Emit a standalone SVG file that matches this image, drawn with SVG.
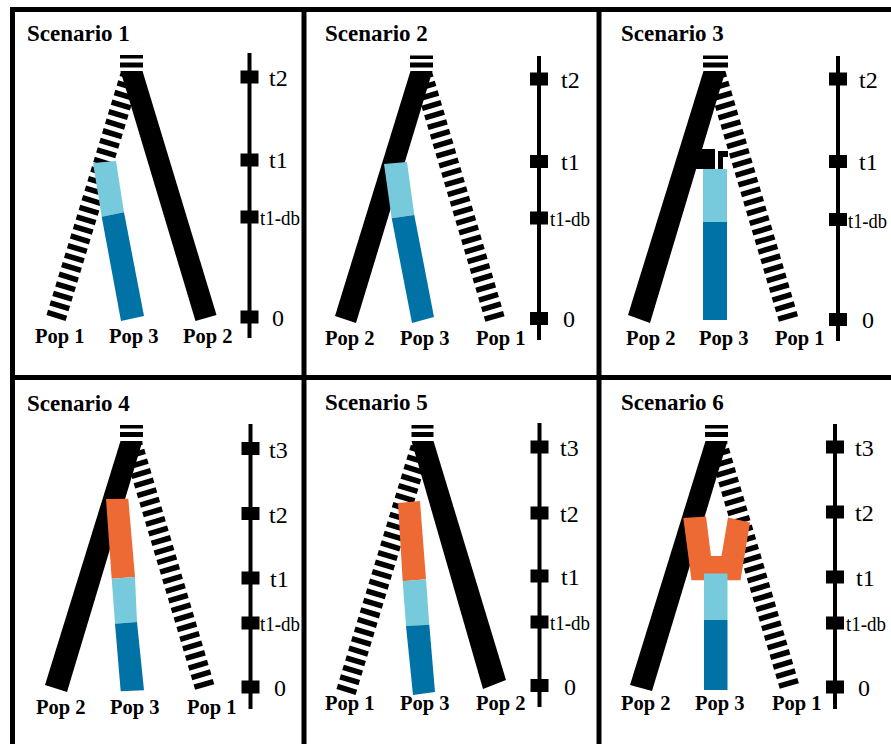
<svg xmlns="http://www.w3.org/2000/svg" width="891" height="744" viewBox="0 0 891 744">
<style>
.frame{stroke:#000;stroke-width:5;fill:none}
.title{font-family:"Liberation Serif",serif;font-weight:bold;font-size:23px;fill:#000}
.pop{font-family:"Liberation Serif",serif;font-weight:bold;font-size:20.5px;fill:#000}
.tl{font-family:"Liberation Serif",serif;font-size:24px;fill:#000}
.tdb{font-family:"Liberation Serif",serif;font-size:21px;fill:#000}
.axis{stroke:#000;stroke-width:4}
.solid{fill:#000}
.stripe{stroke:#000;stroke-width:20;stroke-dasharray:5.5 4.5;fill:none}
.orange{fill:#EE6A35}
.light{fill:#77CADC}
.dark{fill:#0072A6}
</style>
<defs>
<clipPath id="clipTop"><rect x="0" y="71" width="891" height="301"/></clipPath>
<clipPath id="clipBot"><rect x="0" y="441" width="891" height="303"/></clipPath>
<rect id="tk" x="-9" y="-6.5" width="18" height="13"/>
</defs>
<rect x="0" y="0" width="891" height="744" fill="#fff"/>
<g id="frames" class="frame">
<line x1="10" y1="9.5" x2="891" y2="9.5"/>
<line x1="12.5" y1="7" x2="12.5" y2="744"/>
<line x1="304" y1="7" x2="304" y2="744"/>
<line x1="599" y1="7" x2="599" y2="744"/>
<line x1="10" y1="377.5" x2="891" y2="377.5"/>
</g>

<!-- Scenario 1 -->
<g id="scenario1">
<text class="title" x="27" y="41">Scenario 1</text>
<g id="s1-root"><rect x="120" y="55" width="23" height="3.5"/><rect x="120" y="62.5" width="23" height="5"/></g>
<g id="s1-pop1"><line class="stripe" clip-path="url(#clipTop)" x1="56" y1="318" x2="134.6" y2="61"/></g>
<g id="s1-pop2"><polygon class="solid" points="120.5,71 142.5,71 216.5,315 195.5,321"/></g>
<g id="s1-pop3"><polygon class="light" points="93,163 116,161 124,212.3 101.7,216.7"/><polygon class="dark" points="101.7,216.7 124,212.3 144,316 121,321"/></g>
<g id="s1-time"><line class="axis" x1="249.5" y1="53" x2="249.5" y2="338"/>
<use href="#tk" x="249.5" y="77"/><use href="#tk" x="249.5" y="160"/><use href="#tk" x="249.5" y="217"/><use href="#tk" x="249.5" y="317"/>
<text class="tl" x="269" y="86">t2</text><text class="tl" x="269" y="168">t1</text><text class="tdb" x="260" y="225" textLength="40" lengthAdjust="spacingAndGlyphs">t1-db</text><text class="tl" x="272" y="326">0</text></g>
<text class="pop" x="35" y="343">Pop 1</text><text class="pop" x="109" y="343">Pop 3</text><text class="pop" x="183" y="343">Pop 2</text>
</g>

<!-- Scenario 2 -->
<g id="scenario2">
<text class="title" x="325" y="41">Scenario 2</text>
<g id="s2-root"><rect x="410" y="55.5" width="23" height="3.5"/><rect x="410" y="62.5" width="23" height="5"/></g>
<g id="s2-pop1"><line class="stripe" clip-path="url(#clipTop)" x1="495" y1="319" x2="418.5" y2="61"/></g>
<g id="s2-pop2"><polygon class="solid" points="410.5,71 432.5,71 356,323 335,316"/></g>
<g id="s2-pop3"><polygon class="light" points="384,164 407,162 414.3,215 391.7,218.3"/><polygon class="dark" points="391.7,218.3 414.3,215 434,317 412,323"/></g>
<g id="s2-time"><line class="axis" x1="539" y1="56" x2="539" y2="340"/>
<use href="#tk" x="539" y="79"/><use href="#tk" x="539" y="161.5"/><use href="#tk" x="539" y="218"/><use href="#tk" x="539" y="318.5"/>
<text class="tl" x="561" y="88">t2</text><text class="tl" x="561" y="170">t1</text><text class="tdb" x="550" y="226" textLength="40" lengthAdjust="spacingAndGlyphs">t1-db</text><text class="tl" x="563" y="327">0</text></g>
<text class="pop" x="325" y="345">Pop 2</text><text class="pop" x="400" y="345">Pop 3</text><text class="pop" x="476" y="345">Pop 1</text>
</g>

<!-- Scenario 3 -->
<g id="scenario3">
<text class="title" x="621" y="41">Scenario 3</text>
<g id="s3-root"><rect x="703" y="55.5" width="25" height="3.5"/><rect x="703" y="62.5" width="25" height="5"/></g>
<g id="s3-pop1"><line class="stripe" clip-path="url(#clipTop)" x1="788.5" y1="319" x2="712" y2="61"/></g>
<g id="s3-pop2"><polygon class="solid" points="703.5,71 725.5,71 650,323 628,315"/>
<polygon class="solid" points="690,149 715,149 715,169 685,169"/>
<path class="solid" d="M718,151 H728 V157 H723 V169 H718 Z"/></g>
<g id="s3-pop3"><rect class="light" x="703" y="169" width="24" height="53"/><rect class="dark" x="703" y="222" width="24" height="98"/></g>
<g id="s3-time"><line class="axis" x1="838" y1="56" x2="838" y2="341"/>
<use href="#tk" x="838" y="79"/><use href="#tk" x="838" y="161.5"/><use href="#tk" x="838" y="219.5"/><use href="#tk" x="838" y="319.5"/>
<text class="tl" x="859" y="88">t2</text><text class="tl" x="859" y="170">t1</text><text class="tdb" x="848" y="227.5" textLength="39" lengthAdjust="spacingAndGlyphs">t1-db</text><text class="tl" x="862" y="328">0</text></g>
<text class="pop" x="626" y="345">Pop 2</text><text class="pop" x="699" y="345">Pop 3</text><text class="pop" x="775" y="345">Pop 1</text>
</g>

<!-- Scenario 4 -->
<g id="scenario4">
<text class="title" x="27" y="411">Scenario 4</text>
<g id="s4-root"><rect x="120" y="425" width="23" height="3.5"/><rect x="120" y="432" width="23" height="5"/></g>
<g id="s4-pop1"><line class="stripe" clip-path="url(#clipBot)" x1="204.7" y1="687" x2="128.5" y2="431"/></g>
<g id="s4-pop2"><polygon class="solid" points="120.5,441 142.5,441 67,692 45,685"/></g>
<g id="s4-pop3"><polygon class="orange" points="106,499 128.3,498.7 135,577 111.7,578.7"/><polygon class="light" points="111.7,578.7 135,577 137,622 115,623.7"/><polygon class="dark" points="115,623.7 137,622 144,690.3 120.7,691.3"/></g>
<g id="s4-time"><line class="axis" x1="250.5" y1="424" x2="250.5" y2="709"/>
<use href="#tk" x="250.5" y="448.5"/><use href="#tk" x="250.5" y="513.5"/><use href="#tk" x="250.5" y="578"/><use href="#tk" x="250.5" y="623"/><use href="#tk" x="250.5" y="687"/>
<text class="tl" x="269" y="457.5">t3</text><text class="tl" x="269" y="522.5">t2</text><text class="tl" x="270" y="587">t1</text><text class="tdb" x="260" y="631" textLength="40" lengthAdjust="spacingAndGlyphs">t1-db</text><text class="tl" x="274" y="696">0</text></g>
<text class="pop" x="36" y="714">Pop 2</text><text class="pop" x="110" y="714">Pop 3</text><text class="pop" x="187" y="714">Pop 1</text>
</g>

<!-- Scenario 5 -->
<g id="scenario5">
<text class="title" x="325" y="410">Scenario 5</text>
<g id="s5-root"><rect x="411.5" y="425" width="22" height="3.5"/><rect x="411.5" y="432" width="22" height="5"/></g>
<g id="s5-pop1"><line class="stripe" clip-path="url(#clipBot)" x1="346" y1="692" x2="425.5" y2="431"/></g>
<g id="s5-pop2"><polygon class="solid" points="411.5,441 433.5,441 506,680 483,689"/></g>
<g id="s5-pop3"><polygon class="orange" points="398,503 420,501 426,579.3 402.7,581.3"/><polygon class="light" points="402.7,581.3 426,579.3 429.3,624.7 406,626"/><polygon class="dark" points="406,626 429.3,624.7 435,692 413,695"/></g>
<g id="s5-time"><line class="axis" x1="539.5" y1="423" x2="539.5" y2="707"/>
<use href="#tk" x="539.5" y="447"/><use href="#tk" x="539.5" y="513"/><use href="#tk" x="539.5" y="576"/><use href="#tk" x="539.5" y="622"/><use href="#tk" x="539.5" y="685.5"/>
<text class="tl" x="560" y="456">t3</text><text class="tl" x="560" y="522">t2</text><text class="tl" x="561" y="585">t1</text><text class="tdb" x="550" y="630" textLength="40" lengthAdjust="spacingAndGlyphs">t1-db</text><text class="tl" x="564" y="694.5">0</text></g>
<text class="pop" x="325" y="710">Pop 1</text><text class="pop" x="400" y="710">Pop 3</text><text class="pop" x="476" y="710">Pop 2</text>
</g>

<!-- Scenario 6 -->
<g id="scenario6">
<text class="title" x="621" y="410">Scenario 6</text>
<g id="s6-root"><rect x="705" y="425" width="23" height="3.5"/><rect x="705" y="432" width="23" height="5"/></g>
<g id="s6-pop1"><line class="stripe" clip-path="url(#clipBot)" x1="789.3" y1="686" x2="713.5" y2="431"/></g>
<g id="s6-pop2"><polygon class="solid" points="705.5,441 727.5,441 652,691 630,685"/></g>
<g id="s6-pop3"><polygon class="orange" points="683.3,518 706,516.5 711,556 721.5,556 728,517.5 750,522.5 740.5,580.3 691.5,580.3"/>
<rect class="light" x="704" y="573.5" width="23.5" height="46.5"/><rect class="dark" x="704" y="620" width="23.5" height="70"/></g>
<g id="s6-time"><line class="axis" x1="835" y1="424" x2="835" y2="709"/>
<use href="#tk" x="835" y="447"/><use href="#tk" x="835" y="512"/><use href="#tk" x="835" y="577"/><use href="#tk" x="835" y="623"/><use href="#tk" x="835" y="687"/>
<text class="tl" x="855" y="456">t3</text><text class="tl" x="855" y="521">t2</text><text class="tl" x="856" y="586">t1</text><text class="tdb" x="846" y="631" textLength="40" lengthAdjust="spacingAndGlyphs">t1-db</text><text class="tl" x="858" y="696">0</text></g>
<text class="pop" x="621" y="710">Pop 2</text><text class="pop" x="695" y="710">Pop 3</text><text class="pop" x="772" y="710">Pop 1</text>
</g>
</svg>
